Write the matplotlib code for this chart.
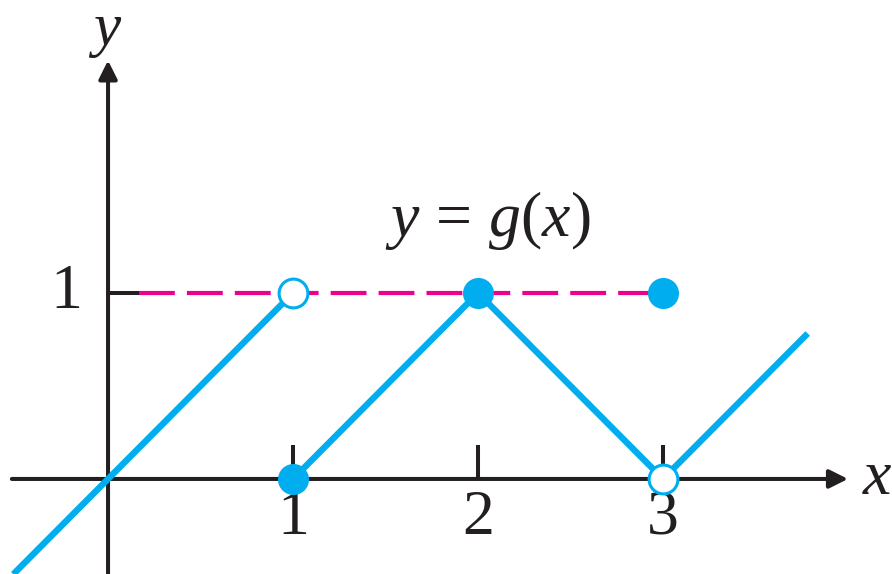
import matplotlib.pyplot as plt

plt.rcParams["mathtext.fontset"] = "custom"
plt.rcParams["mathtext.rm"] = "Liberation Serif"
plt.rcParams["mathtext.it"] = "Liberation Serif:italic"

BLUE = "#00AEEF"
MAGENTA = "#EC008C"
BLACK = "#231F20"

# graph of g
left_x = [-0.5, 1]
left_y = [-0.5, 1]
right_x = [1, 2, 3, 3.77]
right_y = [0, 1, 0, 0.77]
filled_x = [1, 2, 3]
filled_y = [0, 1, 1]
open_x = [1, 3]
open_y = [1, 0]
dash_x = [0.17, 3]
dash_y = [1, 1]
xticks = [1, 2, 3]
yticks = [1]

fig = plt.figure(figsize=(8.92, 5.74), dpi=100)
ax = fig.add_axes([0, 0, 1, 1])
ax.set_xlim(-0.584, 4.238)
ax.set_ylim(-0.511, 2.575)
ax.axis("off")

# axes with arrows
ax.annotate("", xy=(4.0, 0), xytext=(-0.52, 0),
            arrowprops=dict(arrowstyle="-|>", lw=2.9, color=BLACK,
                            mutation_scale=28, shrinkA=0, shrinkB=0))
ax.annotate("", xy=(0, 2.25), xytext=(0, -0.52),
            arrowprops=dict(arrowstyle="-|>", lw=2.9, color=BLACK,
                            mutation_scale=28, shrinkA=0, shrinkB=0))

# ticks
for t in xticks:
    ax.plot([t, t], [0, 0.18], color=BLACK, lw=2.9, solid_capstyle="butt")
    ax.text(t, -0.215, str(t), ha="center", va="center",
            fontsize=46, family="Liberation Serif", color=BLACK)
for t in yticks:
    ax.plot([0, 0.17], [t, t], color=BLACK, lw=2.9, solid_capstyle="butt")
    ax.text(-0.227, t, str(t), ha="center", va="center",
            fontsize=46, family="Liberation Serif", color=BLACK)

ax.text(4.157, 0, "x", ha="center", va="center", fontsize=46,
        family="Liberation Serif", style="italic", color=BLACK)
ax.text(-0.01, 2.41, "y", ha="center", va="center", fontsize=44,
        family="Liberation Serif", style="italic", color=BLACK)

# dashed level line
ax.plot(dash_x, dash_y, color=MAGENTA, lw=3, dashes=(8.6, 2.9), zorder=2)

# the graph
ax.plot(left_x, left_y, color=BLUE, lw=4.6, zorder=3)
ax.plot(right_x, right_y, color=BLUE, lw=4.6, zorder=3)
ax.scatter(filled_x, filled_y, s=500, color=BLUE, zorder=4, linewidths=0)
ax.scatter(open_x, open_y, s=430, facecolor="white", edgecolor=BLUE,
           linewidths=2.2, zorder=4)

ax.text(2.05, 1.39, r"$y\,=\,g(x)$", ha="center", va="center",
        fontsize=46, color=BLACK)

fig.savefig("out.png", dpi=100)
